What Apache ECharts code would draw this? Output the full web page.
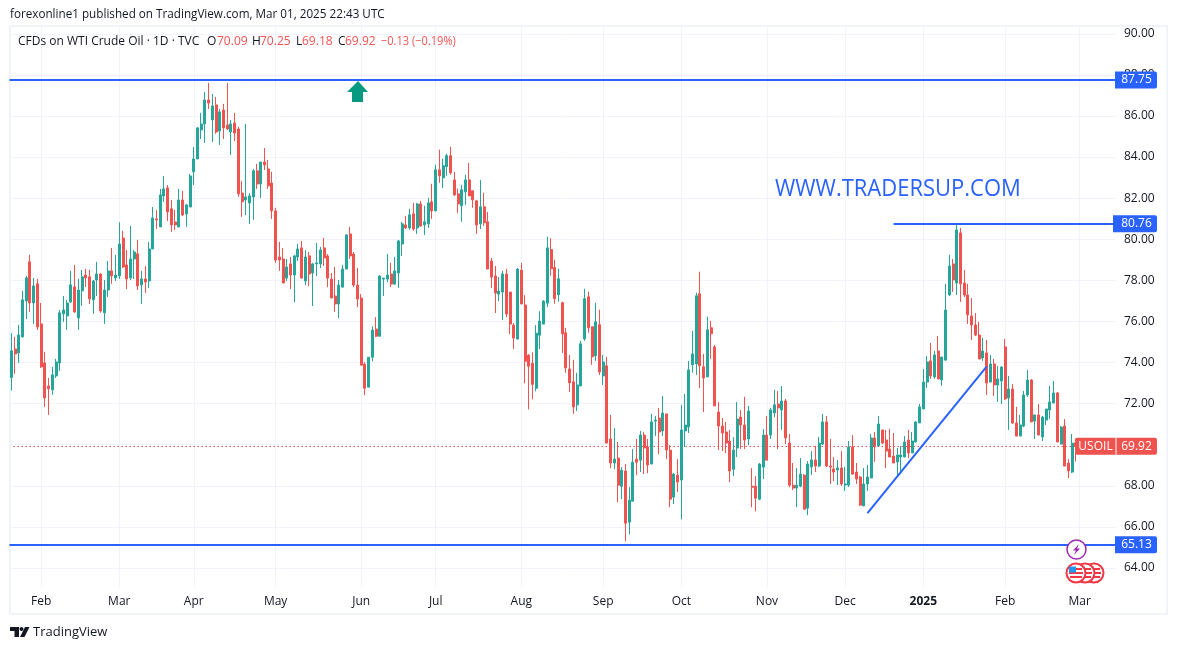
<!DOCTYPE html>
<html>
<head>
<meta charset="utf-8">
<title>USOIL</title>
<script src="https://cdn.jsdelivr.net/npm/echarts@6/dist/echarts.min.js"></script>
<style>
html, body { margin: 0; padding: 0; background: #fff; }
#chart { width: 1177px; height: 650px; }
</style>
</head>
<body>
<div id="chart"></div>
<script>
var opens = [
73.27,74.66,74.47,75.25,77.0,78.90,76.90,77.83,75.88,73.98,
72.86,72.67,73.35,73.98,76.37,76.27,76.95,77.68,76.17,77.49,
78.26,78.17,77.05,78.02,78.31,76.42,77.53,78.46,78.12,78.22,
80.06,78.75,78.12,79.04,79.29,77.78,78.07,77.97,79.53,80.99,
80.60,82.11,82.50,81.48,80.84,80.60,81.91,81.23,81.57,83.28,
83.91,85.32,85.61,86.78,85.81,86.54,85.27,86.29,85.56,85.22,
85.66,85.37,82.25,81.91,81.77,82.06,83.33,82.69,83.76,83.42,
82.74,81.38,79.14,79.04,78.11,78.80,78.26,79.14,79.58,77.97,
79.19,78.36,78.80,78.80,79.58,79.19,78.06,77.24,76.85,77.67,
78.55,80.26,79.28,77.77,77.14,73.92,72.80,74.26,75.63,75.28,
78.06,78.06,78.31,77.82,78.36,79.77,80.70,80.55,81.24,80.55,
81.72,80.70,80.75,81.82,81.38,83.38,82.99,83.53,84.07,82.89,
82.21,81.63,82.31,82.89,82.36,81.87,80.75,81.58,80.85,78.94,
78.21,77.33,77.43,78.31,77.43,75.82,75.14,78.50,76.80,74.36,
73.97,72.75,75.33,75.87,76.89,79.50,78.62,77.30,76.91,75.45,
73.69,73.06,71.94,72.86,75.15,77.20,75.74,74.33,75.84,73.35,
73.84,70.28,69.11,69.35,67.98,68.72,66.23,67.25,69.30,69.25,
70.47,69.89,69.06,71.15,71.30,70.67,71.50,69.74,67.45,68.52,
68.28,70.67,70.86,73.89,73.93,77.35,73.79,73.30,75.69,74.76,
71.59,70.91,70.62,70.18,68.81,69.84,71.35,70.96,70.28,67.98,
67.98,67.35,68.91,70.47,70.47,71.55,71.98,71.69,72.13,70.08,
68.03,67.89,67.98,68.52,66.91,68.92,69.26,68.96,70.03,71.11,
68.96,68.82,68.77,68.87,68.04,68.04,69.89,68.67,68.43,67.02,
68.09,68.38,70.33,69.94,70.72,70.23,69.79,69.45,69.16,69.40,
69.40,70.23,69.60,70.13,71.06,71.74,73.05,74.08,73.30,74.56,
73.15,74.12,77.29,78.80,77.87,80.31,77.87,77.29,76.27,75.83,
75.34,74.22,74.47,73.05,73.93,72.91,73.10,74.76,72.28,72.71,
71.06,70.42,70.91,72.42,73.15,71.15,71.45,70.38,71.20,71.69,
72.03,72.52,70.03,70.91,69.11,68.67,70.09
];
var closes = [
74.57,74.42,75.34,77.05,78.12,76.90,77.73,75.73,73.79,72.28,
72.72,73.40,74.03,76.42,76.56,76.90,77.78,76.46,77.53,78.17,
78.12,77.10,77.97,78.31,76.51,77.53,78.46,78.22,78.26,79.77,
78.65,78.07,79.04,79.38,77.73,78.07,77.92,79.53,81.04,80.94,
82.16,82.45,81.33,80.70,80.70,81.91,81.18,81.67,83.08,83.91,
85.42,85.61,86.78,86.63,86.49,85.22,86.20,85.42,85.37,85.61,
85.17,82.21,81.82,82.06,82.11,83.33,82.69,83.76,83.62,82.60,
81.38,78.99,78.99,77.87,78.65,78.26,79.19,79.53,78.11,79.14,
78.31,78.80,78.85,79.48,79.09,78.11,77.14,76.85,77.77,78.55,
80.21,79.19,77.77,77.09,73.87,72.75,74.26,75.58,75.28,78.21,
78.11,78.26,77.82,78.46,79.92,80.75,80.55,81.19,80.50,81.72,
80.65,80.85,81.77,81.38,83.38,83.09,83.58,84.07,83.24,82.16,
81.72,82.41,82.89,82.11,81.92,80.70,81.58,80.80,78.55,78.16,
77.38,77.48,78.31,76.36,75.87,75.19,78.55,76.85,74.06,73.82,
72.94,75.43,76.02,76.99,79.58,78.57,77.11,78.08,75.40,73.74,
73.01,71.84,72.91,74.91,77.11,75.69,74.28,75.98,73.54,74.03,
70.08,69.11,69.30,68.03,68.76,66.18,67.30,69.15,69.15,70.47,
69.84,69.01,71.11,71.20,70.62,71.54,69.74,67.35,68.57,68.18,
70.72,70.96,73.64,74.42,77.25,73.84,73.25,75.59,75.40,71.89,
70.91,70.57,70.08,68.72,69.74,71.25,70.96,70.23,71.64,67.93,
67.40,69.06,70.47,69.25,71.69,71.94,71.79,72.13,70.33,68.03,
67.89,68.03,68.57,66.86,69.06,69.26,68.96,70.08,71.11,68.96,
68.91,68.67,68.87,68.09,68.09,69.89,68.57,68.33,67.06,68.09,
68.43,70.33,69.89,71.01,70.08,69.69,69.40,69.11,69.50,69.50,
70.13,69.60,70.18,71.11,71.84,73.05,74.03,73.35,74.37,73.20,
74.27,76.56,78.70,78.02,80.45,77.83,77.29,76.32,75.83,75.34,
74.17,74.56,73.00,73.93,72.91,73.20,73.78,72.23,72.71,71.06,
70.42,70.96,72.42,73.15,71.11,71.45,70.47,71.35,71.74,72.08,
72.52,70.13,70.86,68.96,68.72,70.08,69.92
];
var lows = [
72.64,73.45,73.98,75.20,76.12,76.46,75.88,75.59,73.74,71.84,
71.45,72.43,73.25,73.59,75.98,75.59,76.90,76.42,75.59,76.76,
77.68,76.85,76.37,77.24,76.42,75.88,77.19,77.83,77.97,78.07,
78.61,77.58,78.02,78.07,77.53,76.85,77.39,77.63,79.53,80.50,
80.60,81.82,80.89,80.36,80.45,80.60,81.14,80.60,81.57,82.64,
83.91,84.88,84.69,86.34,84.74,85.13,84.59,84.88,85.32,84.10,
84.78,82.06,81.09,81.18,80.75,80.94,82.45,82.01,83.37,82.45,
80.99,78.85,78.46,77.87,77.97,77.58,76.94,78.94,78.11,77.77,
77.72,76.75,78.21,78.60,78.70,77.67,77.14,76.46,76.16,77.67,
78.55,79.04,77.67,76.70,73.87,72.41,72.80,74.06,75.24,75.28,
77.24,77.92,77.67,77.77,77.63,79.19,80.50,80.46,80.41,80.26,
80.60,80.21,80.55,80.99,81.38,82.75,82.50,83.09,83.14,82.11,
81.28,80.85,81.67,82.11,81.53,80.26,80.50,80.65,78.55,77.63,
76.41,76.99,76.07,76.21,75.38,74.65,75.14,76.85,72.99,71.72,
72.21,72.60,74.65,75.87,76.70,78.23,76.86,76.96,74.47,73.50,
72.57,71.50,71.64,72.86,75.06,75.45,73.89,74.08,73.40,72.91,
70.08,68.86,68.81,67.20,67.35,65.30,65.64,67.25,68.52,68.67,
68.57,68.62,69.06,70.42,69.54,70.42,69.30,66.96,67.11,67.69,
66.37,69.89,70.57,73.50,73.40,72.76,71.59,73.30,74.18,71.89,
69.74,69.69,69.59,68.18,68.47,69.40,69.79,69.79,69.98,66.96,
66.76,67.30,68.33,69.25,70.28,71.35,69.79,70.72,70.03,67.93,
67.79,66.96,67.93,66.86,66.57,68.53,68.67,68.91,69.99,68.91,
68.09,68.23,68.04,67.99,67.75,67.94,68.53,68.09,67.02,67.02,
67.75,68.38,69.16,69.94,70.03,68.87,69.40,69.11,68.48,68.57,
69.40,69.35,69.60,70.13,71.06,71.74,72.76,73.20,73.20,73.20,
72.86,74.08,77.24,77.44,77.29,76.95,77.19,75.88,75.10,75.29,
74.17,74.08,72.42,73.05,72.37,72.08,71.98,72.18,70.72,71.01,
70.42,70.42,70.86,72.32,71.11,70.28,70.47,70.18,70.96,71.25,
72.03,70.13,70.03,68.96,68.38,68.62,69.18
];
var highs = [
75.43,75.25,75.83,77.49,78.22,79.24,78.12,78.07,76.90,74.52,
73.25,73.79,74.18,76.56,77.24,77.05,78.46,78.75,78.07,78.51,
78.56,78.51,78.02,78.90,78.36,78.02,78.95,79.58,79.24,80.83,
80.41,79.48,80.65,79.48,79.97,78.46,78.70,79.87,81.57,81.43,
82.45,83.08,82.64,81.91,81.43,82.45,82.35,81.72,83.18,84.49,
85.47,86.15,87.17,87.61,87.07,86.93,86.34,86.59,87.61,85.81,
86.15,85.47,82.84,85.61,82.25,83.42,83.67,83.76,84.44,83.86,
83.28,81.53,79.87,79.58,79.04,79.14,79.24,79.77,79.92,79.48,
79.38,78.85,79.82,79.63,80.06,79.28,78.36,78.65,78.02,78.75,
80.26,80.60,79.38,78.60,77.33,74.02,74.26,75.77,76.21,78.26,
78.11,79.28,78.85,79.14,79.97,80.85,81.14,81.48,81.77,81.77,
81.87,81.63,82.02,82.70,83.63,84.36,83.92,84.16,84.50,83.28,
82.46,82.65,83.14,83.72,82.36,81.92,82.89,82.26,81.33,79.09,
78.70,78.16,78.46,78.55,77.43,75.92,78.60,78.85,77.28,74.41,
74.50,75.82,76.50,77.04,80.12,80.05,79.00,78.57,76.96,75.69,
74.37,74.13,73.50,75.06,77.59,77.45,75.74,76.91,76.57,74.37,
74.28,71.45,70.81,70.13,68.91,69.06,67.93,69.79,70.28,70.67,
70.62,70.28,71.50,71.40,71.79,72.37,71.50,69.98,68.62,69.30,
71.94,72.47,74.08,75.54,77.40,78.42,74.42,76.23,76.03,74.86,
72.08,71.30,71.11,70.72,70.37,72.08,71.69,72.33,71.89,68.86,
68.47,69.11,70.76,71.40,71.79,72.67,72.62,72.86,72.23,70.52,
69.11,68.86,69.35,68.57,69.20,69.69,69.94,70.38,71.50,71.40,
70.28,69.40,69.26,69.69,68.92,70.18,70.47,69.11,68.48,68.87,
69.01,70.52,70.62,71.40,70.72,70.72,70.77,70.57,69.84,69.94,
70.42,70.72,70.62,71.15,71.98,73.69,74.32,74.95,74.56,75.29,
74.27,77.83,79.24,79.04,80.75,80.55,78.51,77.83,77.14,76.41,
75.98,75.20,75.10,74.37,74.17,73.83,73.83,75.15,73.35,72.96,
71.84,71.45,72.62,73.64,73.20,71.45,71.98,71.40,71.74,72.86,
73.10,72.57,70.91,71.25,69.30,70.52,70.25
];
var monthBars = [8, 29, 49, 71, 94, 114, 137, 159, 180, 203, 224, 245, 267, 287];
var monthLabels = ['Feb', 'Mar', 'Apr', 'May', 'Jun', 'Jul', 'Aug', 'Sep', 'Oct', 'Nov', 'Dec', '2025', 'Feb', 'Mar'];
var barSlots = 297;
var lastPrice = 69.92;
var levels = [87.75, 65.13];
var resistance = 80.76;
var trendFrom = [230, 66.67];
var trendTo = [262, 73.8];

var FONT = '"Open Sans", sans-serif';
var BLUE = '#2962ff';
var RED = '#ef5350';
var GREEN = '#26a69a';
var GRID = '#f0f3fa';
var INK = '#131722';

var categories = [];
for (var i = 0; i < barSlots; i++) categories.push('');
monthBars.forEach(function (b, k) { categories[b] = monthLabels[k]; });

var candles = opens.map(function (o, k) { return [o, closes[k], lows[k], highs[k]]; });

var Chart = echarts.init(document.getElementById('chart'), null, { renderer: 'canvas' });

var option = {
    animation: false,
    backgroundColor: '#fff',
    grid: [
        { left: 9.5, width: 1105.5, top: 33.8, height: 534.2 },
        { left: 9.5, width: 1105.5, top: 26, height: 561 }
    ],
    xAxis: [
        { type: 'category', gridIndex: 0, data: categories, show: false },
        {
            type: 'category', gridIndex: 1, data: categories,
            axisLine: { show: false },
            axisTick: { show: false },
            axisLabel: {
                interval: 0, margin: 9, fontFamily: FONT, fontSize: 12, color: INK,
                formatter: function (v) { return v === '2025' ? '{b|2025}' : v; },
                rich: { b: { fontFamily: FONT, fontSize: 12, fontWeight: 'bold', color: INK } }
            },
            splitLine: {
                show: true, alignWithLabel: true,
                interval: function (k) { return monthBars.indexOf(k) >= 0; },
                lineStyle: { color: GRID, width: 1 }
            }
        }
    ],
    yAxis: [
        {
            type: 'value', gridIndex: 0, position: 'right', min: 64, max: 90, interval: 2,
            axisLine: { show: false },
            axisTick: { show: false },
            axisLabel: {
                margin: 9, fontFamily: FONT, fontSize: 12, color: INK, padding: [4, 0, 0, 0],
                formatter: function (v) { return v.toFixed(2); }
            },
            splitLine: { lineStyle: { color: GRID, width: 1 } }
        },
        { type: 'value', gridIndex: 1, min: 0, max: 1, show: false }
    ],
    series: [
        {
            // carries only the dotted last-price line, so it stays behind the candles
            type: 'line',
            xAxisIndex: 0,
            yAxisIndex: 0,
            z: 1,
            data: [],
            markLine: {
                z: 1,
                silent: true,
                symbol: 'none',
                label: { show: false },
                lineStyle: { color: RED, width: 1, type: [1.5, 2.5] },
                data: [{ yAxis: lastPrice }]
            }
        },
        {
            type: 'candlestick',
            xAxisIndex: 0,
            yAxisIndex: 0,
            z: 3,
            data: candles,
            barWidth: 2.5,
            itemStyle: { color: GREEN, color0: RED, borderColor: GREEN, borderColor0: RED, borderWidth: 1 },
            markLine: {
                silent: true,
                symbol: 'none',
                label: { show: false },
                lineStyle: { color: BLUE, width: 2, type: 'solid' },
                data: [
                    { yAxis: levels[0] },
                    { yAxis: levels[1] },
                    [{ coord: [237, resistance] }, { coord: [296, resistance] }],
                    [{ coord: trendFrom }, { coord: trendTo }]
                ]
            }
        }
    ]
};
Chart.setOption(option);

// price tags sit on the price scale, so ask the chart where they go
function priceY(p) { return Chart.convertToPixel({ yAxisIndex: 0 }, p); }

function tag(price, color, fromX) {
    var y = priceY(price);
    return [
        { type: 'rect', z: 20, shape: { x: fromX, y: y - 8.5, width: 1157 - fromX, height: 17, r: [0, 2, 2, 0] }, style: { fill: color } },
        { type: 'text', z: 21, style: { x: 1136.5, y: y, text: price.toFixed(2), fill: '#fff', font: '12px ' + FONT, align: 'center', verticalAlign: 'middle' } }
    ];
}

// squeeze narrows the text a little, the reference font runs tighter than Open Sans
function label(x, y, text, color, font, squeeze) {
    return {
        type: 'text', z: 21, x: x, y: y, scaleX: squeeze || 1,
        style: { x: 0, y: 0, text: text, fill: color || INK, font: font || ('12px ' + FONT), verticalAlign: 'middle' }
    };
}

var flagX = [1094, 1085, 1076];
var flagY = 573;
var flags = [];
flagX.forEach(function (x, k) {
    var z = 22 + k * 2;
    flags.push({ type: 'circle', z: z, shape: { cx: x, cy: flagY, r: 9.5 }, style: { fill: '#fff', stroke: '#f23645', lineWidth: 2 } });
    flags.push({ type: 'rect', z: z + 1, shape: { x: x - 7, y: flagY - 1, width: 14, height: 2 }, style: { fill: '#f23645' } });
    flags.push({ type: 'rect', z: z + 1, shape: { x: x - 6, y: flagY + 3, width: 12, height: 2 }, style: { fill: '#f23645' } });
    flags.push({ type: 'rect', z: z + 1, shape: { x: x, y: flagY - 5, width: 6, height: 2 }, style: { fill: '#f23645' } });
    flags.push({ type: 'rect', z: z + 1, shape: { x: x - 7, y: flagY - 6.5, width: 7, height: 6 }, style: { fill: '#2196f3' } });
});

var lastY = priceY(lastPrice);
var chrome = [
    { type: 'rect', z: 1, shape: { x: 10, y: 26, width: 1157, height: 588 }, style: { fill: 'none', stroke: GRID, lineWidth: 2 } },
    label(10, 15, 'forexonline1 published on TradingView.com, Mar 01, 2025 22:43 UTC', INK, null, 0.974),
    label(18, 42, 'CFDs on WTI Crude Oil · 1D · TVC'),
    label(207, 42, 'O'), label(217, 42, '70.09', RED),
    label(252, 42, 'H'), label(260, 42, '70.25', RED),
    label(296, 42, 'L'), label(302, 42, '69.18', RED),
    label(338, 42, 'C'), label(345, 42, '69.92', RED),
    label(381, 42, '−0.13 (−0.19%)', RED, null, 0.92),
    label(775, 189, 'WWW.TRADERSUP.COM', BLUE, '23px ' + FONT, 0.956),
    { type: 'polygon', z: 15, shape: { points: [[358, 81], [368, 92], [363, 92], [363, 102], [352, 102], [352, 92], [347, 92]] }, style: { fill: '#089981' } },
    { type: 'rect', z: 20, shape: { x: 1075, y: lastY - 8.5, width: 82, height: 17, r: [2, 2, 2, 2] }, style: { fill: RED } },
    { type: 'rect', z: 21, shape: { x: 1115.5, y: lastY - 8.5, width: 1, height: 17 }, style: { fill: '#fff' } },
    { type: 'text', z: 22, style: { x: 1095.5, y: lastY, text: 'USOIL', fill: '#fff', font: '12px ' + FONT, align: 'center', verticalAlign: 'middle' } },
    { type: 'text', z: 22, style: { x: 1136.5, y: lastY, text: lastPrice.toFixed(2), fill: '#fff', font: '12px ' + FONT, align: 'center', verticalAlign: 'middle' } },
    { type: 'circle', z: 22, shape: { cx: 1076.5, cy: 549.5, r: 9.5 }, style: { fill: '#fff', stroke: '#9c27b0', lineWidth: 1.5 } },
    { type: 'polygon', z: 23, shape: { points: [[1079, 544], [1073, 550.5], [1076, 550.5], [1074, 555], [1080, 548.5], [1077, 548.5]] }, style: { fill: '#9c27b0' } },
    { type: 'polygon', z: 5, shape: { points: [[10, 627], [19, 627], [19, 637], [14.5, 637], [14.5, 631], [10, 631]] }, style: { fill: INK } },
    { type: 'circle', z: 5, shape: { cx: 21.5, cy: 629, r: 2 }, style: { fill: INK } },
    { type: 'polygon', z: 5, shape: { points: [[25, 627], [29.5, 627], [24.5, 637], [20, 637]] }, style: { fill: INK } },
    label(33, 632, 'TradingView', INK, '13px ' + FONT)
];

Chart.setOption({
    graphic: chrome
        .concat(tag(levels[0], BLUE, 1115))
        .concat(tag(resistance, BLUE, 1113))
        .concat(tag(levels[1], BLUE, 1115))
        .concat(flags)
});
</script>
</body>
</html>
